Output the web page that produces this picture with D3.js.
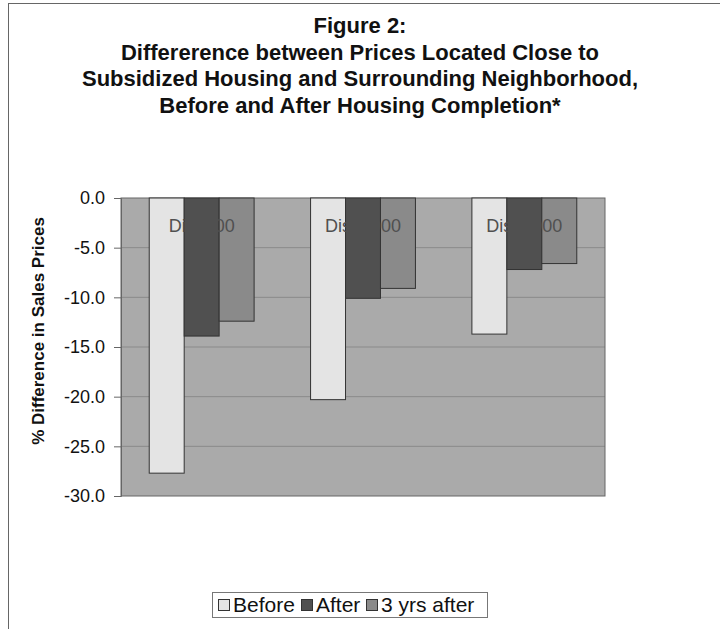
<!DOCTYPE html>
<html>
<head>
<meta charset="utf-8">
<script src="https://cdn.jsdelivr.net/npm/d3@7"></script>
<style>
  body { margin: 0; background: #fff; }
  text { font-family: "Liberation Sans", Arial, sans-serif; }
</style>
</head>
<body>
<div id="chart"></div>
<script>
// chart values
const categories = ["Dist 500", "Dist 1000", "Dist 2000"];
const seriesNames = ["Before", "After", "3 yrs after"];
const before = [-27.7, -20.3, -13.7];
const after = [-13.9, -10.1, -7.2];
const threeYrsAfter = [-12.4, -9.1, -6.6];
const yTicks = [0, -5, -10, -15, -20, -25, -30];
const titleLines = [
    "Figure 2:",
    "Differerence between Prices Located Close to",
    "Subsidized Housing and Surrounding Neighborhood,",
    "Before and After Housing Completion*"
];

const width = 720;
const height = 629;
const plot = { left: 121, right: 605, top: 198, bottom: 496 };
const colors = ["#e4e4e4", "#505050", "#8a8a8a"];

const svg = d3.select("#chart")
    .append("svg")
    .attr("width", width)
    .attr("height", height);

// outer chart frame (only top and left edges fall inside the picture)
svg.append("rect")
    .attr("x", 8.5).attr("y", 3.5)
    .attr("width", 740).attr("height", 660)
    .attr("fill", "none")
    .attr("stroke", "#666")
    .attr("stroke-width", 1);

// title
svg.append("g").selectAll("text")
    .data(titleLines)
    .join("text")
    .attr("x", 360)
    .attr("y", (d, i) => 33 + i * 26.5)
    .attr("text-anchor", "middle")
    .style("font-size", "22px")
    .style("font-weight", "bold")
    .attr("fill", "#111")
    .text(d => d);

const y = d3.scaleLinear()
    .domain([-30, 0])
    .range([plot.bottom, plot.top]);

const x0 = d3.scaleBand()
    .domain(categories)
    .range([plot.left, plot.right])
    .paddingInner(0.35)
    .paddingOuter(0.175);

const x1 = d3.scaleBand()
    .domain(seriesNames)
    .range([0, x0.bandwidth()]);

// plot area
svg.append("rect")
    .attr("x", plot.left).attr("y", plot.top)
    .attr("width", plot.right - plot.left)
    .attr("height", plot.bottom - plot.top)
    .attr("fill", "#aaaaaa");

// gridlines
svg.append("g")
    .selectAll("line")
    .data(yTicks.filter(d => d !== 0 && d !== -30))
    .join("line")
    .attr("x1", plot.left).attr("x2", plot.right)
    .attr("y1", d => y(d)).attr("y2", d => y(d))
    .attr("stroke", "#8a8a8a")
    .attr("stroke-width", 1);

svg.append("rect")
    .attr("x", plot.left).attr("y", plot.top)
    .attr("width", plot.right - plot.left)
    .attr("height", plot.bottom - plot.top)
    .attr("fill", "none")
    .attr("stroke", "#666")
    .attr("stroke-width", 1);

// y axis
const yAxis = svg.append("g")
    .attr("transform", `translate(${plot.left},0)`)
    .call(d3.axisLeft(y).tickValues(yTicks).tickSize(7).tickPadding(9));
yAxis.select(".domain").attr("stroke", "#666");
yAxis.selectAll(".tick line").attr("stroke", "#666");
yAxis.selectAll(".tick text")
    .style("font-size", "18px")
    .style("font-family", "'Liberation Sans', Arial, sans-serif")
    .attr("fill", "#111")
    .text(d => d3.format(".1f")(d).replace("−", "-"));

svg.append("text")
    .attr("transform", `translate(44,331) rotate(-90)`)
    .attr("text-anchor", "middle")
    .style("font-size", "17px")
    .style("font-weight", "bold")
    .attr("fill", "#111")
    .text("% Difference in Sales Prices");

// bars
const rows = categories.map((c, i) => ({
    category: c,
    values: [before[i], after[i], threeYrsAfter[i]]
}));

const groups = svg.append("g")
    .selectAll("g")
    .data(rows)
    .join("g")
    .attr("transform", d => `translate(${x0(d.category)},0)`);

groups.selectAll("rect")
    .data(d => d.values.map((v, j) => ({ series: seriesNames[j], value: v, idx: j })))
    .join("rect")
    .attr("x", d => x1(d.series))
    .attr("y", y(0))
    .attr("width", x1.bandwidth())
    .attr("height", d => y(d.value) - y(0))
    .attr("fill", d => colors[d.idx])
    .attr("stroke", "#333")
    .attr("stroke-width", 1);

// category labels sit at the zero line, inside the plot
// (same grey as the dark bars, so they vanish over them like in the scan)
svg.append("g")
    .selectAll("text")
    .data(categories)
    .join("text")
    .attr("x", d => x0(d) + x0.bandwidth() / 2)
    .attr("y", 232)
    .attr("text-anchor", "middle")
    .style("font-size", "18px")
    .attr("fill", colors[1])
    .text(d => d);

// legend
const legend = svg.append("g");
legend.append("rect")
    .attr("x", 212.5).attr("y", 592.5)
    .attr("width", 275).attr("height", 25)
    .attr("fill", "#fff")
    .attr("stroke", "#777");

const legendX = [218, 301, 366];
seriesNames.forEach((name, i) => {
    legend.append("rect")
        .attr("x", legendX[i] + 0.5).attr("y", 599.5)
        .attr("width", 11).attr("height", 11)
        .attr("fill", colors[i])
        .attr("stroke", "#333");
    legend.append("text")
        .attr("x", legendX[i] + 15)
        .attr("y", 612)
        .style("font-size", "21px")
        .attr("fill", "#111")
        .text(name);
});
</script>
</body>
</html>
